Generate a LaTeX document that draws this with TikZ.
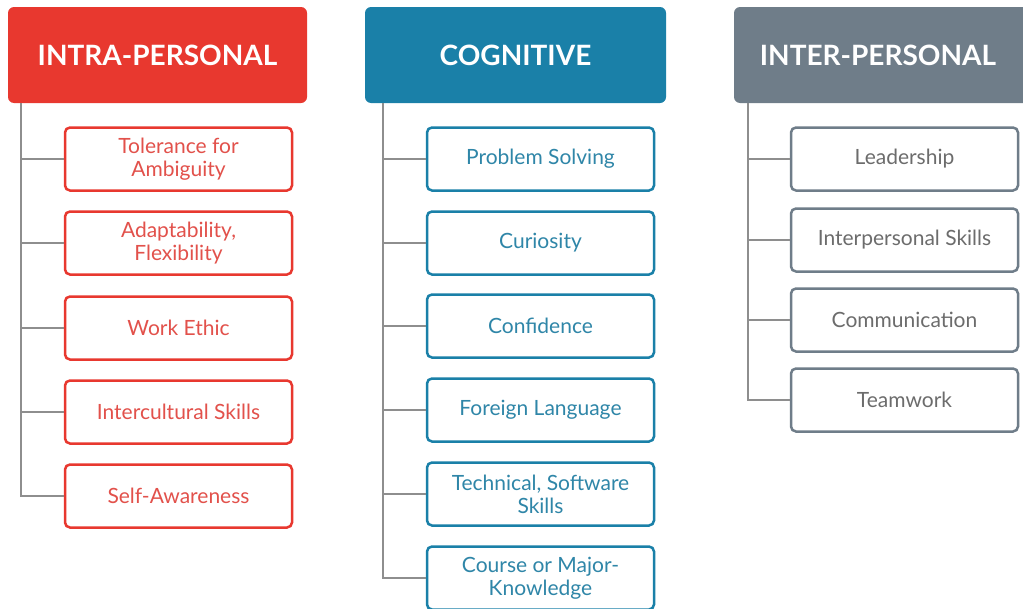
\documentclass[tikz,border=0pt]{standalone}
\usepackage{fontspec}
\setmainfont{Lato}
\usepackage{tikz}

\definecolor{intrared}{HTML}{E8382F}
\definecolor{intratext}{HTML}{E2514B}
\definecolor{cogblue}{HTML}{1A80A8}
\definecolor{cogtext}{HTML}{2F86A8}
\definecolor{intergray}{HTML}{6F7D89}
\definecolor{intertext}{HTML}{6C6C6C}
\definecolor{linegray}{HTML}{8E8E8E}

\begin{document}
\begin{tikzpicture}[x=1pt, y=-1pt,
    header/.style={rounded corners=6pt, minimum width=299pt, minimum height=96pt,
      inner sep=0pt, text=white, font=\fontsize{28}{30}\selectfont\bfseries},
    skill/.style={line width=2.5pt, rounded corners=5pt, fill=white, align=center,
      minimum width=227pt, minimum height=63pt, inner sep=0pt,
      font=\fontsize{21}{23}\selectfont},
    link/.style={linegray, line width=2.5pt}]
  \clip (0,0) rectangle (1023,608);

  % Headers
  \node[header, fill=intrared] (intra) at (157.5,55) {INTRA-PERSONAL};
  \node[header, fill=cogblue, minimum width=301pt] (cog) at (515.5,55) {COGNITIVE};
  \node[header, fill=intergray, minimum width=300pt] (inter) at (884,55) {INTER-PERSONAL\hspace*{12pt}};

  % Trunk start points
  \coordinate (t1) at (21,103);
  \coordinate (t2) at (383,103);
  \coordinate (t3) at (748,103);

  % Intra-personal skills
  \foreach \name/\y/\txt in {a1/159/{Tolerance for\\Ambiguity}, a2/243/{Adaptability,\\Flexibility},
      a3/328/{Work Ethic}, a4/412/{Intercultural Skills}, a5/496/{Self-Awareness}}
    \node[skill, draw=intrared, text=intratext] (\name) at (178.5,\y) {\txt};

  % Cognitive skills
  \foreach \name/\y/\txt in {b1/159/{Problem Solving}, b2/243/{Curiosity}, b3/326/{Confidence},
      b4/410/{Foreign Language}, b5/494/{Technical, Software\\Skills}, b6/578/{Course or Major-\\Knowledge}}
    \node[skill, draw=cogblue, text=cogtext] (\name) at (540.5,\y) {\txt};

  % Inter-personal skills
  \foreach \name/\y/\txt in {c1/159/{Leadership}, c2/240/{Interpersonal Skills},
      c3/320/{Communication}, c4/400/{Teamwork}}
    \node[skill, draw=intergray, text=intertext] (\name) at (904.5,\y) {\txt};

  % Connectors
  \draw[link] (t1) |- (a5.west);
  \foreach \name in {a1,a2,a3,a4}
    \draw[link] (\name.west) -- (\name.west -| t1);
  \draw[link] (t2) |- (b6.west);
  \foreach \name in {b1,b2,b3,b4,b5}
    \draw[link] (\name.west) -- (\name.west -| t2);
  \draw[link] (t3) |- (c4.west);
  \foreach \name in {c1,c2,c3}
    \draw[link] (\name.west) -- (\name.west -| t3);
\end{tikzpicture}
\end{document}
